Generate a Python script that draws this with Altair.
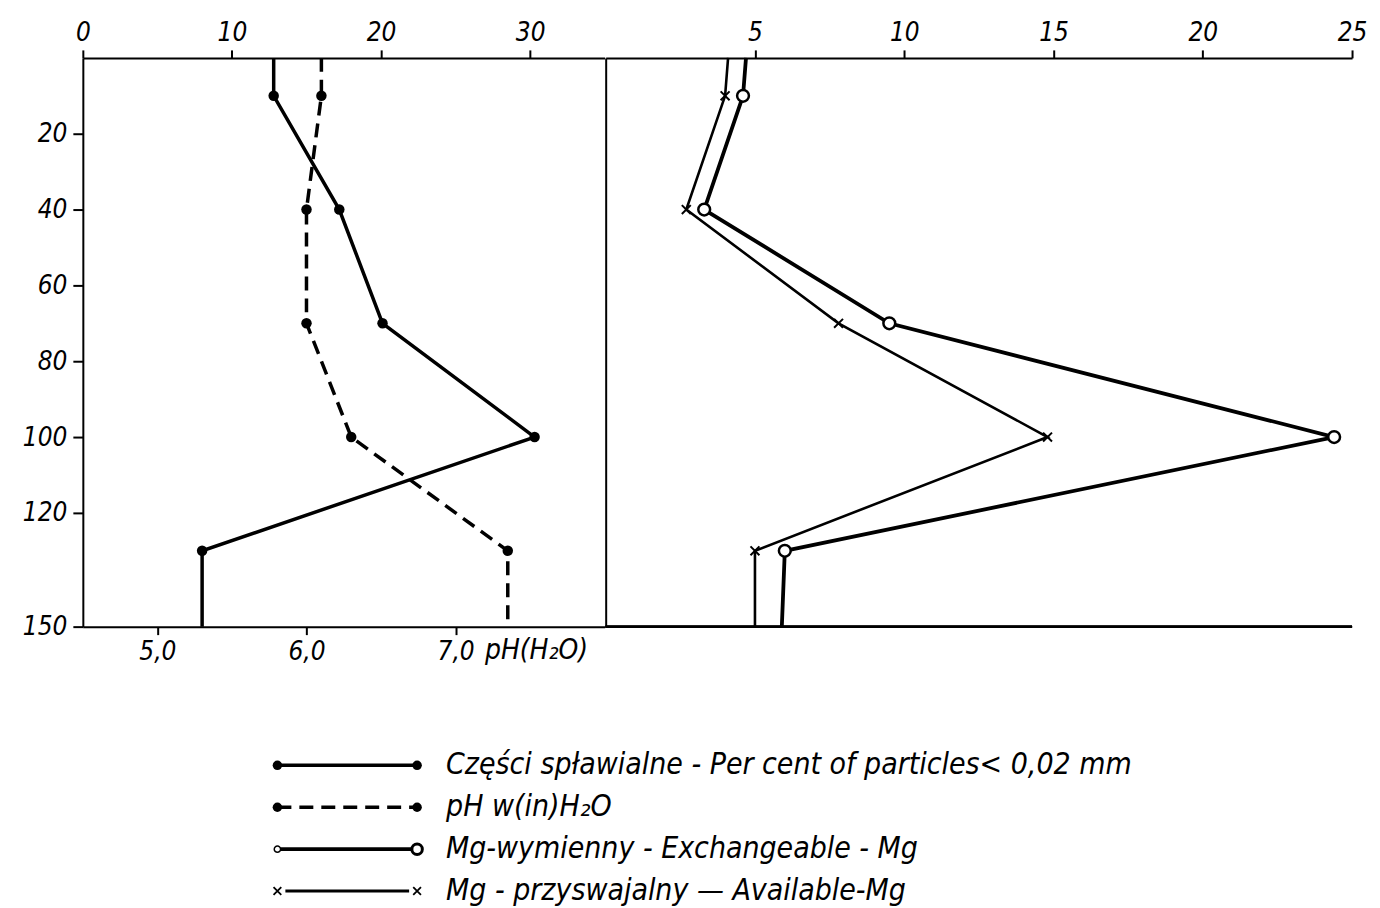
import altair as alt
import pandas as pd

# ---- data ----
depth = [0, 10, 40, 70, 100, 130, 150]
particles = [12.8, 12.8, 17.2, 20.1, 30.3, 8.0, 8.0]      # % particles < 0.02 mm
ph = [6.1, 6.1, 6.0, 6.0, 6.3, 7.35, 7.35]                 # pH (H2O)
mg_exch = [4.7, 4.6, 3.3, 9.5, 24.4, 6.0, 5.9]             # exchangeable Mg
mg_avail = [4.1, 4.0, 2.7, 7.8, 14.8, 5.0, 5.0]            # available Mg

y_ticks = [20, 40, 60, 80, 100, 120, 150]
top_left_ticks = [0, 10, 20, 30]
top_right_ticks = [5, 10, 15, 20, 25]
ph_ticks = [5, 6, 7]
ph_title = "pH(H\u2082O)"
legend_labels = [
    "Części spławialne  -  Per cent of particles< 0,02 mm",
    "pH w(in)H\u2082O",
    "Mg-wymienny -  Exchangeable - Mg",
    "Mg - przyswajalny  \u2014  Available-Mg",
]

df = pd.DataFrame({"depth": depth, "particles": particles, "ph": ph,
                   "mg_exch": mg_exch, "mg_avail": mg_avail})
legend_df = pd.DataFrame({"row": list(range(len(legend_labels))), "label": legend_labels})

FONT = "Liberation Sans Narrow, DejaVu Sans Condensed, DejaVu Sans, sans-serif"
W_L, W_R, H = 523, 748, 570
INNER = "datum.depth > 0 && datum.depth < 150"

yscale = alt.Scale(domain=[0, 150], reverse=True, nice=False, zero=False)
Y_left = alt.Y("depth:Q", scale=yscale, title=None,
               axis=alt.Axis(values=y_ticks, orient="left", tickSize=10, labelPadding=6,
                             minExtent=70, maxExtent=70))
Y_right = alt.Y("depth:Q", scale=yscale, title=None,
                axis=alt.Axis(orient="left", labels=False, ticks=False, domain=True,
                              values=[], minExtent=0, maxExtent=0))

top_axis_left = alt.Axis(orient="top", values=top_left_ticks, tickSize=8, labelPadding=4,
                         labelFlush=False, minExtent=44, maxExtent=44)
top_axis_right = alt.Axis(orient="top", values=top_right_ticks, tickSize=8, labelPadding=4,
                          labelFlush=False, minExtent=44, maxExtent=44)

X_p = alt.X("particles:Q", scale=alt.Scale(domain=[0, 35], nice=False, zero=False),
            title=None, axis=top_axis_left)
X_ph = alt.X("ph:Q", scale=alt.Scale(domain=[4.5, 8.0], nice=False, zero=False), title=None,
             axis=alt.Axis(orient="bottom", values=ph_ticks, tickSize=8, labelPadding=4,
                           labelFlush=False,
                           labelExpr="replace(format(datum.value, '.1f'), '.', ',')"))

base = alt.Chart(df)

line_p = base.mark_line(color="black", strokeWidth=3.5).encode(x=X_p, y=Y_left, order="depth:Q")
pts_p = base.transform_filter(INNER).mark_circle(size=110, color="black", opacity=1).encode(x=X_p, y=Y_left)

line_ph = base.mark_line(color="black", strokeWidth=3.5, strokeDash=[14, 8]).encode(
    x=X_ph, y=Y_left, order="depth:Q")
pts_ph = base.transform_filter(INNER).mark_circle(size=110, color="black", opacity=1).encode(x=X_ph, y=Y_left)
ph_text = alt.Chart(pd.DataFrame({"t": [ph_title]})).mark_text(
    align="left", baseline="top", font=FONT, fontSize=28, fontStyle="italic", color="black"
).encode(x=alt.value(403), y=alt.value(H + 10), text="t:N")

left = alt.layer(
    alt.layer(line_p, pts_p),
    alt.layer(line_ph, pts_ph, ph_text),
).resolve_scale(x="independent").properties(width=W_L, height=H)

xr_scale = alt.Scale(domain=[0, 25], nice=False, zero=False)
X_ex = alt.X("mg_exch:Q", scale=xr_scale, title=None, axis=top_axis_right)
X_av = alt.X("mg_avail:Q", scale=xr_scale, title=None, axis=top_axis_right)

line_ex = base.mark_line(color="black", strokeWidth=3.8).encode(x=X_ex, y=Y_right, order="depth:Q")
pts_ex = base.transform_filter(INNER).mark_point(
    shape="circle", filled=True, fill="white", stroke="black", strokeWidth=2.5, size=140, opacity=1
).encode(x=X_ex, y=Y_right)
line_av = base.mark_line(color="black", strokeWidth=2.6).encode(x=X_av, y=Y_right, order="depth:Q")
XSHAPE = "M-1,-1L1,1M-1,1L1,-1"
pts_av = base.transform_filter(INNER).mark_point(
    shape=XSHAPE, filled=False, stroke="black", strokeWidth=2, size=80, opacity=1
).encode(x=X_av, y=Y_right)
bottom_line = base.mark_rule(color="black", strokeWidth=2).encode(y=alt.value(H))

right = alt.layer(line_ex, pts_ex, line_av, pts_av, bottom_line).properties(width=W_R, height=H)

top = alt.hconcat(left, right, spacing=0)

# ---- custom legend ----
LX0, LX1, TX = 195, 335, 364
ly = alt.Y("row:Q", scale=alt.Scale(domain=[-0.5, 3.5], reverse=True, nice=False, zero=False), axis=None)
lb = alt.Chart(legend_df)

def rowf(i):
    return lb.transform_filter(f"datum.row == {i}")

leg_layers = []
# row 0: solid line with dots
leg_layers.append(rowf(0).mark_rule(color="black", strokeWidth=3.5).encode(x=alt.value(LX0), x2=alt.value(LX1), y=ly))
for xv in (LX0, LX1):
    leg_layers.append(rowf(0).mark_circle(size=90, color="black", opacity=1).encode(x=alt.value(xv), y=ly))
# row 1: dashed line with dots
leg_layers.append(rowf(1).mark_rule(color="black", strokeWidth=3.5, strokeDash=[14, 8]).encode(
    x=alt.value(LX0), x2=alt.value(LX1), y=ly))
for xv in (LX0, LX1):
    leg_layers.append(rowf(1).mark_circle(size=90, color="black", opacity=1).encode(x=alt.value(xv), y=ly))
# row 2: solid line with open circles
leg_layers.append(rowf(2).mark_rule(color="black", strokeWidth=3.8).encode(x=alt.value(LX0), x2=alt.value(LX1), y=ly))
leg_layers.append(rowf(2).mark_point(shape="circle", filled=True, fill="white", stroke="black",
                                     strokeWidth=1.5, size=40, opacity=1).encode(x=alt.value(LX0), y=ly))
leg_layers.append(rowf(2).mark_point(shape="circle", filled=True, fill="white", stroke="black",
                                     strokeWidth=3, size=110, opacity=1).encode(x=alt.value(LX1), y=ly))
# row 3: solid line with crosses
leg_layers.append(rowf(3).mark_rule(color="black", strokeWidth=3).encode(x=alt.value(LX0 + 8), x2=alt.value(LX1 - 8), y=ly))
for xv in (LX0, LX1):
    leg_layers.append(rowf(3).mark_point(shape=XSHAPE, filled=False, stroke="black", strokeWidth=1.8,
                                         size=60, opacity=1).encode(x=alt.value(xv), y=ly))
leg_layers.append(lb.mark_text(align="left", baseline="middle", font=FONT, fontSize=30,
                               fontStyle="italic", color="black").encode(x=alt.value(TX), y=ly, text="label:N"))

legend = alt.layer(*leg_layers).properties(width=W_L + W_R, height=168)

chart = alt.vconcat(top, legend, spacing=80).configure_view(stroke=None).configure_axis(
    labelFont=FONT, labelFontStyle="italic", labelFontSize=26, labelColor="black",
    domainColor="black", domainWidth=2, tickColor="black", tickWidth=2, grid=False
).properties(background="white")

chart.save("out.html", embed_options={"renderer": "svg", "actions": False})
